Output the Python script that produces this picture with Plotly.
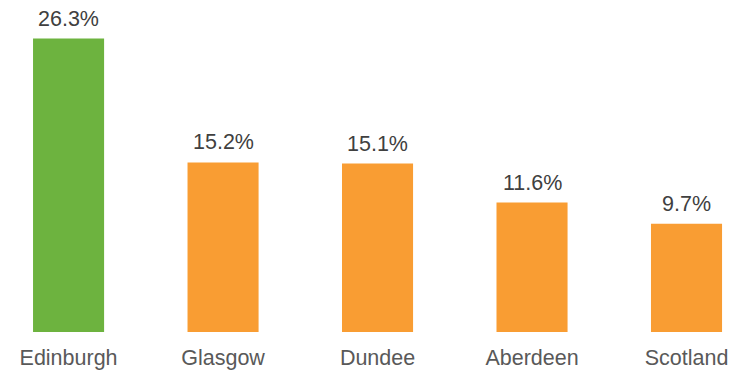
import plotly.graph_objects as go

categories = ["Edinburgh", "Glasgow", "Dundee", "Aberdeen", "Scotland"]
values = [26.3, 15.2, 15.1, 11.6, 9.7]
labels = ["26.3%", "15.2%", "15.1%", "11.6%", "9.7%"]
colors = ["#6DB33F", "#F99D33", "#F99D33", "#F99D33", "#F99D33"]

fig = go.Figure(go.Bar(
    x=categories, y=values,
    marker=dict(color=colors, line=dict(width=0)),
    hoverinfo="skip",
))

for c, v, t in zip(categories, values, labels):
    fig.add_annotation(x=c, y=v, text=t, showarrow=False, yanchor="bottom",
                       yshift=6, font=dict(family="Liberation Sans, Arial", size=21.5, color="#404040"))

fig.update_layout(
    width=740, height=370,
    margin=dict(l=0, r=0, t=12, b=46),
    paper_bgcolor="white", plot_bgcolor="white",
    bargap=0.54,
    showlegend=False,
    font=dict(family="Liberation Sans, Arial", size=21.5, color="#595959"),
)
fig.update_xaxes(range=[-0.392, 4.398], showline=False, showgrid=False, zeroline=False,
                 ticks="", ticklabelstandoff=10, tickfont=dict(size=21.5, color="#595959"))
fig.update_yaxes(range=[0, 27.96], visible=False, showgrid=False, zeroline=False)

fig.write_html("out.html")
